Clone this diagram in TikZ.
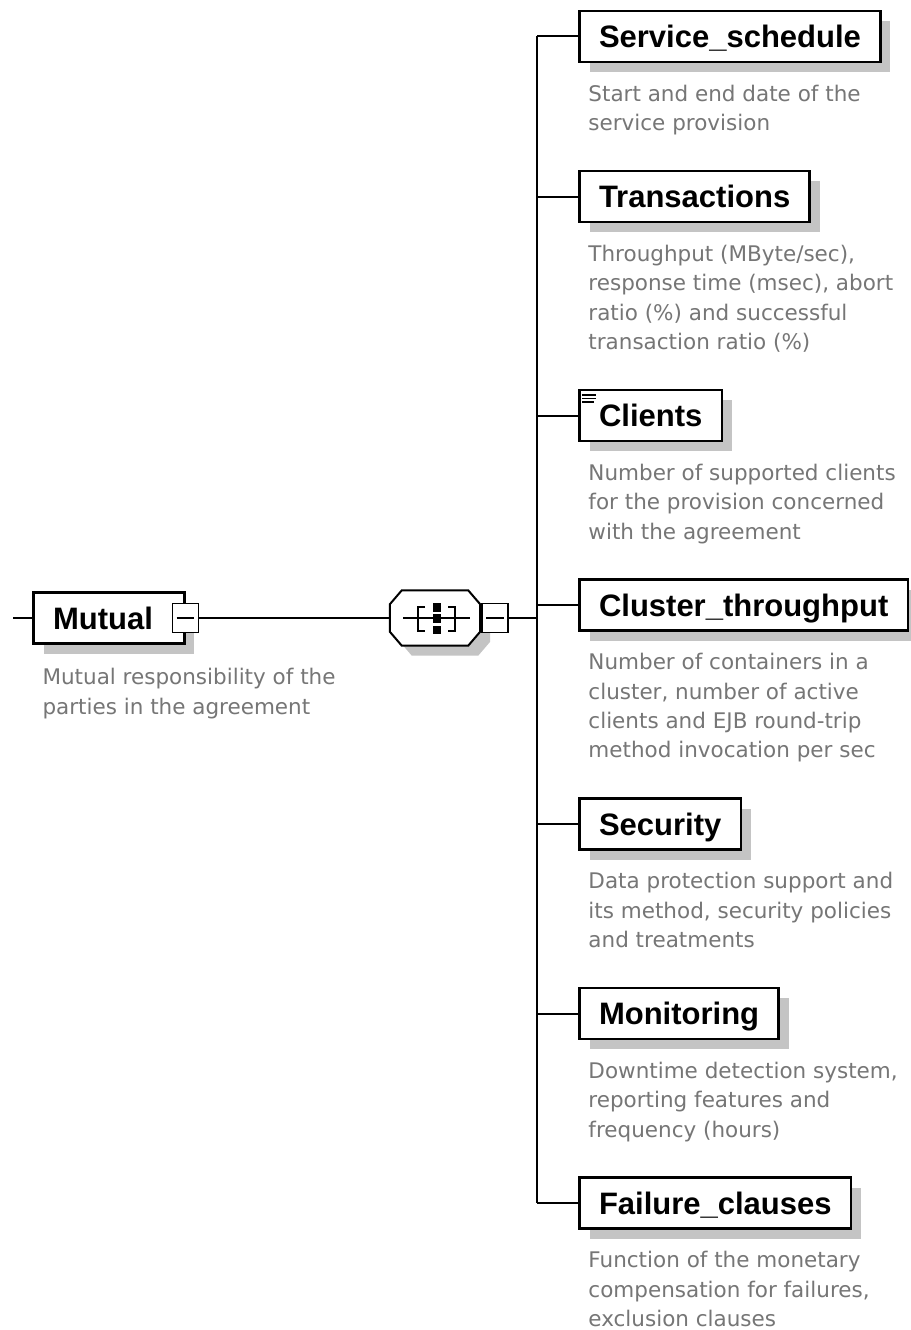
\documentclass[tikz,border=0pt]{standalone}
\usepackage{fontspec}
\setmainfont{Liberation Sans}
\newfontfamily\descfont{DejaVu Sans}
\usetikzlibrary{shadows,calc}

\definecolor{descgray}{RGB}{118,118,118}
\definecolor{shadowgray}{RGB}{196,196,196}

\tikzset{
  softshadow/.style={drop shadow={shadow xshift=10pt, shadow yshift=-10pt, fill=shadowgray, opacity=1}},
  elem/.style={draw, line width=2.5pt, fill=white, minimum height=51pt,
    inner xsep=19.5pt, inner ysep=0pt, text height=22pt, text depth=0pt,
    font={\bfseries\fontsize{31}{36}\selectfont}, softshadow},
  desc/.style={anchor=north west, inner sep=0pt, align=left, text=descgray,
    font={\descfont\fontsize{21.5}{29.3}\selectfont}},
  minusbox/.style={draw, line width=1.8pt, fill=white, minimum width=26pt,
    minimum height=29pt, inner sep=0pt},
  link/.style={line width=2pt},
  glyph/.style={line width=2pt}
}

\newcommand{\firstline}{\rule{0pt}{17pt}}

\begin{document}
\begin{tikzpicture}[x=1pt, y=-1pt]
  \useasboundingbox (0,0) rectangle (910,1330);
  \fill[white] (0,0) rectangle (910,1330);

  % root element and its annotation
  \node[elem, minimum width=149.5pt] (mutual) at (109,618) {Mutual\kern12pt};
  \node[minusbox] (mminus) at (185.5,618) {};
  \draw[glyph] ([xshift=5pt]mminus.west) -- ([xshift=-5pt]mminus.east);
  \node[desc] (mutualdesc) at ($(mutual.south west)+(10,23)$)
    {\firstline Mutual responsibility of the\\parties in the agreement};
  \coordinate (stub) at (13,618);

  % sequence compositor (octagon drawn round an invisible anchor node)
  \node[minimum width=90pt, minimum height=55pt, inner sep=0pt] (seq) at (435,618) {};
  \draw[line width=2pt, fill=white, softshadow]
    ([xshift=12pt]seq.north west) -- ([xshift=-12pt]seq.north east)
    -- ([yshift=-14pt]seq.north east) -- ([yshift=14pt]seq.south east)
    -- ([xshift=-12pt]seq.south east) -- ([xshift=12pt]seq.south west)
    -- ([yshift=14pt]seq.south west) -- ([yshift=-14pt]seq.north west) -- cycle;
  \begin{scope}[shift={(seq.center)}]
    \draw[glyph] (-32,0) -- (35,0);
    \draw[glyph] (-10,-11) -- (-17,-11) -- (-17,12.5) -- (-10,12.5);
    \draw[glyph] (13,-11) -- (20,-11) -- (20,12.5) -- (13,12.5);
    \fill (-2.5,-15) rectangle (6,-6);
    \fill (-2.5,-4) rectangle (6,5);
    \fill (-2.5,8) rectangle (6,16);
  \end{scope}
  \node[minusbox] (sminus) at (495,618) {};
  \draw[glyph] ([xshift=5pt]sminus.west) -- ([xshift=-5pt]sminus.east);
  \coordinate (bus) at (537,618);

  % child elements
  \node[elem, anchor=west] (sched) at (578.25,36.5) {Service\_schedule};
  \node[elem, anchor=west] (trans) at (578.25,196.5) {Transactions};
  \node[elem, anchor=west] (clients) at (578.25,415.5) {Clients};
  \node[elem, anchor=west] (cluster) at (578.25,605) {Cluster\_throughput};
  \node[elem, anchor=west] (secur) at (578.25,824) {Security};
  \node[elem, anchor=west] (monit) at (578.25,1013.5) {Monitoring};
  \node[elem, anchor=west] (fail) at (578.25,1203) {Failure\_clauses};

  % annotation marker on Clients
  \begin{scope}[shift={(clients.north west)}]
    \draw[line width=1.5pt] (4,6) -- (18,6);
    \draw[line width=1.5pt] (4,9.5) -- (18,9.5);
    \draw[line width=1.5pt] (4,13) -- (16,13);
  \end{scope}

  % annotations of the children
  \node[desc] (scheddesc) at ($(sched.south west)+(10,21)$)
    {\firstline Start and end date of the\\service provision};
  \node[desc] (transdesc) at ($(trans.south west)+(10,21)$)
    {\firstline Throughput (MByte/sec),\\response time (msec), abort\\ratio (\%) and successful\\transaction ratio (\%)};
  \node[desc] (clientsdesc) at ($(clients.south west)+(10,21)$)
    {\firstline Number of supported clients\\for the provision concerned\\with the agreement};
  \node[desc] (clusterdesc) at ($(cluster.south west)+(10,21)$)
    {\firstline Number of containers in a\\cluster, number of active\\clients and EJB round-trip\\method invocation per sec};
  \node[desc] (securdesc) at ($(secur.south west)+(10,21)$)
    {\firstline Data protection support and\\its method, security policies\\and treatments};
  \node[desc] (monitdesc) at ($(monit.south west)+(10,21)$)
    {\firstline Downtime detection system,\\reporting features and\\frequency (hours)};
  \node[desc] (faildesc) at ($(fail.south west)+(10,21)$)
    {\firstline Function of the monetary\\compensation for failures,\\exclusion clauses};

  % connectors
  \draw[link] (stub) -- (mutual.west);
  \draw[link] (mminus.east) -- (seq.west);
  \draw[link] (sminus.east) -- (bus);
  \draw[link] (sched.west -| bus) -- (fail.west -| bus);
  \foreach \c in {sched,trans,clients,cluster,secur,monit,fail}
    \draw[link] (\c.west -| bus) -- (\c.west);
\end{tikzpicture}
\end{document}
